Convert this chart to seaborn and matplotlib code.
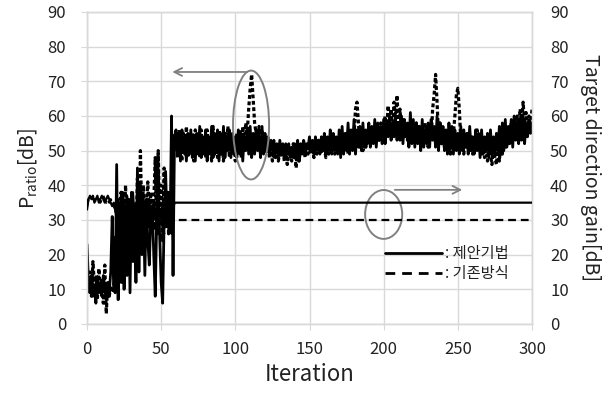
import numpy as np
import pandas as pd
import matplotlib
matplotlib.use("Agg")
import matplotlib.pyplot as plt
import seaborn as sns
from matplotlib.patches import Ellipse
from matplotlib.lines import Line2D

# ---------------- data ----------------
iterations = list(range(0, 301))

# P_ratio of the proposed method (solid), per iteration
p_ratio_proposed = [
    23, 12, 9, 14, 8, 11, 6, 13, 9, 12,
    8, 14, 10, 7, 12, 9, 15, 31, 10, 9,
    46, 7, 35, 12, 38, 10, 30, 14, 36, 9,
    38, 18, 33, 12, 45, 15, 40, 20, 35, 14,
    36, 24, 17, 30, 34, 20, 8, 30, 44, 25,
    12, 6, 30, 44, 28, 38, 27, 60, 14, 54,
    56, 49, 55, 47, 56, 50, 54, 47, 55, 49,
    56, 48, 54, 47, 55, 49, 57, 48, 54, 50,
    56, 47, 54, 49, 57, 48, 55, 50, 56, 47,
    55, 49, 57, 48, 54, 50, 56, 48, 55, 49,
    54, 48, 56, 49, 55, 47, 54, 50, 56, 49,
    57, 48, 55, 49, 56, 50, 54, 48, 57, 49,
    55, 50, 54, 49, 53, 50, 53, 49, 52, 49,
    53, 49, 52, 48, 52, 49, 52, 48, 51, 48,
    52, 48, 53, 47, 52, 49, 53, 49, 52, 51,
    54, 50, 53, 49, 54, 50, 53, 49, 54, 50,
    55, 49, 54, 50, 56, 49, 55, 50, 54, 49,
    56, 48, 57, 49, 55, 50, 58, 49, 56, 50,
    59, 49, 56, 51, 57, 50, 58, 51, 56, 52,
    58, 51, 57, 52, 59, 51, 58, 53, 57, 52,
    59, 52, 58, 54, 60, 53, 58, 54, 59, 53,
    58, 53, 60, 52, 59, 54, 58, 51, 61, 52,
    59, 51, 58, 52, 57, 50, 59, 51, 56, 52,
    58, 51, 59, 53, 57, 51, 60, 50, 58, 52,
    57, 50, 56, 49, 58, 51, 57, 49, 56, 50,
    55, 49, 57, 50, 56, 51, 55, 49, 57, 50,
    54, 49, 56, 50, 55, 48, 56, 49, 54, 50,
    55, 48, 56, 49, 54, 49, 55, 50, 57, 49,
    58, 50, 59, 51, 57, 52, 59, 51, 60, 53,
    58, 52, 59, 53, 60, 52, 58, 54, 59, 55,
    58,
]

# P_ratio of the conventional method (dashed), per iteration
p_ratio_conventional = [
    9, 10, 15, 8, 18, 11, 14, 7, 16, 10,
    13, 6, 17, 3, 12, 8, 11, 10, 9, 25,
    15, 30, 20, 38, 12, 28, 40, 18, 33, 22,
    35, 20, 30, 25, 42, 22, 50, 30, 40, 25,
    34, 41, 28, 38, 30, 35, 48, 26, 50, 30,
    40, 24, 45, 28, 38, 26, 32, 27, 52, 55,
    54, 48, 56, 50, 47, 55, 49, 57, 48, 54,
    49, 55, 47, 56, 50, 54, 48, 56, 49, 53,
    48, 56, 50, 54, 47, 57, 49, 55, 48, 56,
    49, 54, 47, 55, 50, 57, 48, 54, 49, 53,
    47, 55, 50, 56, 48, 57, 51, 58, 55, 62,
    68, 72, 65, 58, 55, 51, 57, 49, 56, 51,
    54, 49, 52, 48, 51, 47, 50, 48, 51, 47,
    50, 48, 51, 47, 50, 46, 51, 48, 47, 52,
    50, 45, 52, 47, 51, 49, 53, 48, 51, 49,
    52, 49, 51, 48, 52, 49, 53, 50, 49, 52,
    51, 48, 52, 49, 53, 50, 54, 49, 52, 50,
    53, 49, 54, 51, 50, 55, 49, 53, 51, 56,
    54, 62, 64, 58, 51, 55, 50, 54, 51, 55,
    52, 56, 53, 57, 54, 52, 56, 53, 58, 54,
    57, 60, 55, 63, 57, 62, 56, 64, 59, 66,
    57, 62, 55, 59, 54, 57, 53, 58, 55, 54,
    57, 53, 58, 54, 57, 52, 56, 53, 58, 54,
    51, 56, 53, 62, 66, 72, 64, 54, 58, 52,
    56, 51, 55, 50, 54, 49, 56, 55, 60, 66,
    68, 62, 53, 54, 49, 53, 51, 55, 50, 54,
    49, 53, 50, 56, 51, 54, 49, 53, 48, 52,
    47, 51, 49, 46, 52, 48, 46, 51, 47, 53,
    49, 54, 51, 57, 52, 55, 58, 53, 59, 55,
    60, 56, 62, 57, 64, 58, 61, 56, 60, 57,
    62,
]

# Target direction gain (right axis)
gain_iterations = list(range(0, 61)) + [300]
gain_proposed = [
    33, 36, 37, 36, 37, 35, 36, 37, 35, 36,
    37, 36, 35, 36, 37, 36, 35, 34, 35, 34,
    30, 36, 26, 38, 32, 35, 28, 37, 33, 36,
    28, 38, 31, 35, 27, 36, 33, 30, 37, 29,
    34, 31, 36, 28, 33, 35, 30, 34, 29, 33,
    31, 35, 28, 33, 30, 34, 29, 27, 33, 35,
    35, 35,
]
gain_conventional = [
    34, 36, 36, 37, 36, 36, 35, 36, 36, 35,
    36, 37, 36, 35, 36, 35, 36, 35, 34, 33,
    28, 34, 24, 36, 30, 33, 26, 35, 30, 33,
    26, 35, 29, 32, 25, 33, 30, 28, 34, 27,
    31, 28, 33, 26, 30, 32, 27, 31, 26, 30,
    28, 32, 26, 30, 28, 31, 27, 26, 30, 30,
    30, 30,
]

legend_labels = [": 제안기법", ": 기존방식"]
x_ticks = [0, 50, 100, 150, 200, 250, 300]
y_ticks = [0, 10, 20, 30, 40, 50, 60, 70, 80, 90]

# ---------------- style ----------------
sns.set_style("white")
plt.rcParams["font.family"] = ["Noto Sans CJK KR", "DejaVu Sans"]
txt = "#222222"
grid_c = "#D9D9D9"

fig = plt.figure(figsize=(6.09, 3.95), dpi=100)
ax = fig.add_axes([87 / 609, 71 / 395, 445 / 609, 312 / 395])
ax2 = ax.twinx()

sns.lineplot(x=iterations, y=p_ratio_proposed, ax=ax, color="black",
             lw=2.0, estimator=None, zorder=3)
sns.lineplot(x=iterations, y=p_ratio_conventional, ax=ax, color="black",
             lw=2.3, estimator=None, zorder=3, linestyle=(0, (1.2, 0.8)))
sns.lineplot(x=gain_iterations, y=gain_proposed, ax=ax2, color="black",
             lw=1.6, estimator=None, zorder=3)
sns.lineplot(x=gain_iterations, y=gain_conventional, ax=ax2, color="black",
             lw=1.6, estimator=None, zorder=3, linestyle=(0, (3.5, 2.2)))

for a in (ax, ax2):
    a.set_xlim(0, 300)
    a.set_ylim(0, 90)
    a.set_yticks(y_ticks)
    for s in a.spines.values():
        s.set_color(grid_c)
        s.set_linewidth(1.0)

ax.set_xticks(x_ticks)
ax.grid(True, color=grid_c, lw=1.0, zorder=0)
ax.set_axisbelow(True)
ax2.grid(False)

ax.tick_params(axis="y", which="both", left=True, length=4, color=grid_c,
               pad=11, labelsize=12, labelcolor=txt)
ax.tick_params(axis="x", which="both", bottom=True, length=4, color=grid_c,
               pad=8, labelsize=12, labelcolor=txt)
ax2.tick_params(axis="y", right=True, length=0, pad=13, labelsize=12,
                labelcolor=txt)

ax.set_xlabel("Iteration", fontsize=16, color=txt, labelpad=4)
ax.set_ylabel(r"P$_{\mathregular{ratio}}$[dB]", fontsize=14, color=txt, labelpad=6)
ax2.set_ylabel("Target direction gain[dB]", fontsize=14, color=txt,
               rotation=270, labelpad=23)

# annotations: ellipses + arrows
g = "#808080"
ax.add_patch(Ellipse((110.6, 57.4), 24.3, 31.4, fill=False, ec=g, lw=1.4, zorder=4))
ax.annotate("", xy=(57.5, 72.7), xytext=(108, 72.7),
            arrowprops=dict(arrowstyle="->", color=g, lw=1.3,
                            shrinkA=0, shrinkB=0, mutation_scale=14), zorder=4)
ax.add_patch(Ellipse((200, 31.6), 25, 14.1, fill=False, ec=g, lw=1.4, zorder=4))
ax.annotate("", xy=(253, 38.7), xytext=(207.5, 38.7),
            arrowprops=dict(arrowstyle="->", color=g, lw=1.3,
                            shrinkA=0, shrinkB=0, mutation_scale=14), zorder=4)

handles = [Line2D([], [], color="black", lw=2.0),
           Line2D([], [], color="black", lw=2.0, linestyle=(0, (3.5, 2.5)))]
leg = ax2.legend(handles, legend_labels, loc="upper left",
                 bbox_to_anchor=((385 - 87) / 445, (324 - 245) / 312),
                 frameon=False, fontsize=11, handlelength=3.7,
                 handletextpad=0.25, labelspacing=0.2, borderpad=0,
                 borderaxespad=0)
for t in leg.get_texts():
    t.set_color(txt)

fig.savefig("out.png", dpi=100)
